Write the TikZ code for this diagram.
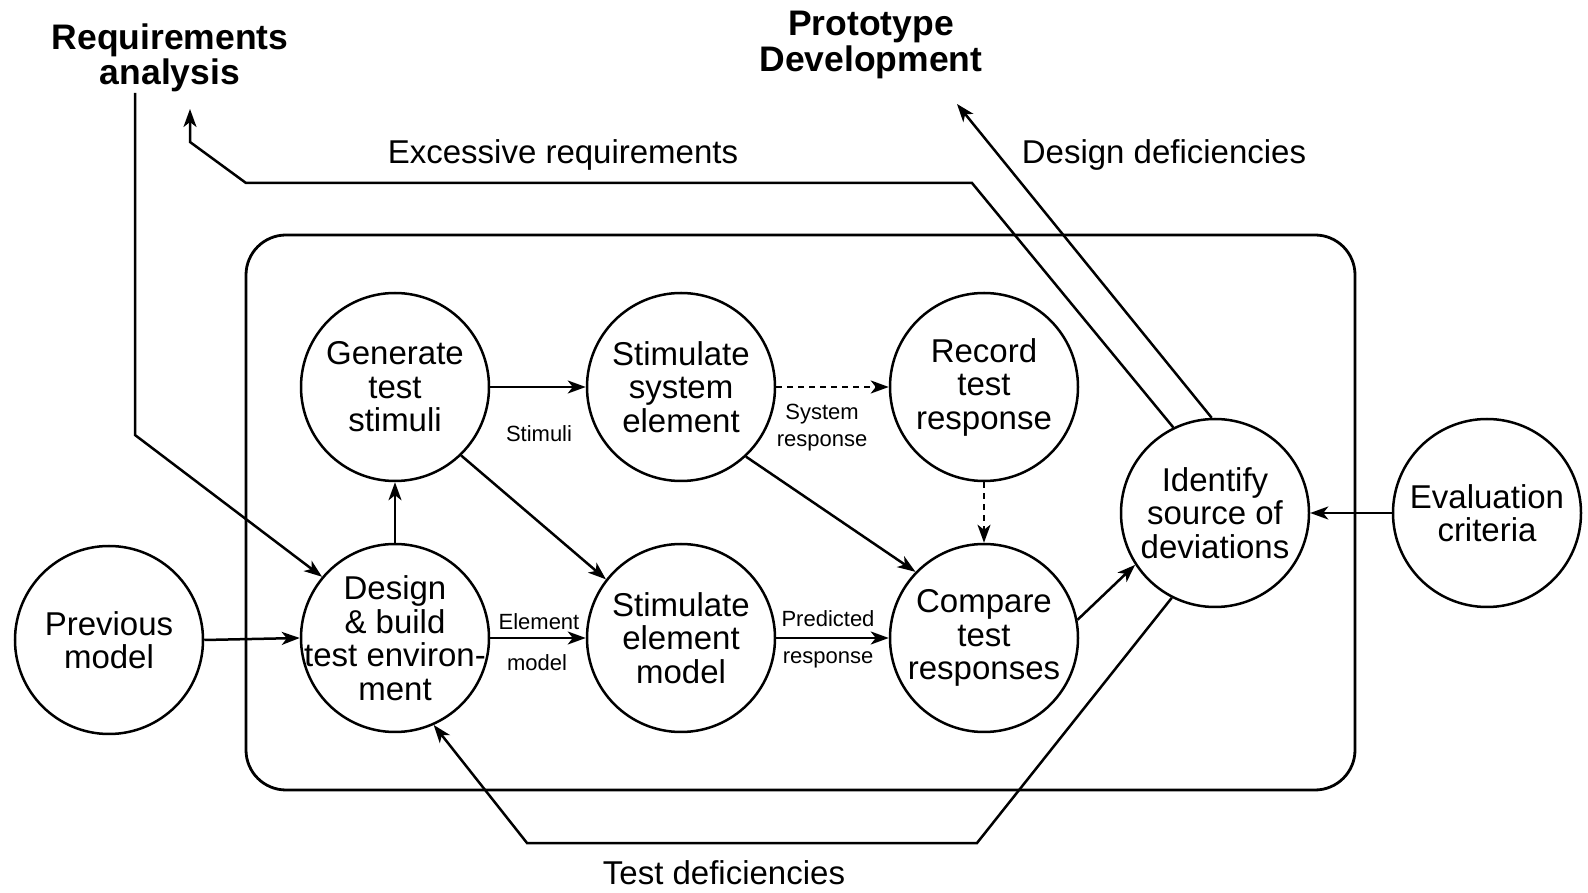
\documentclass[tikz,border=0pt]{standalone}
\usepackage{fontspec}
\setmainfont{Liberation Sans}
\usetikzlibrary{arrows.meta}
\begin{document}
\begin{tikzpicture}[x=1pt,y=1pt,
  proc/.style={draw, circle, line width=2.5pt, minimum size=188pt, inner sep=-18pt, align=center,
    font=\fontsize{33}{33.5}\selectfont},
  conn/.style={line width=2.5pt, -{Stealth[length=18pt,width=13pt,inset=5pt]}},
  dashconn/.style={conn, dash pattern=on 6pt off 5pt},
  head/.style={align=center, font=\bfseries\fontsize{35.5}{35.5}\selectfont},
  lab/.style={align=center, font=\fontsize{33}{33.5}\selectfont},
  small/.style={align=center, font=\fontsize{22}{27}\selectfont, inner sep=1pt}
]
\useasboundingbox (0,0) rectangle (1588,892);
% frame
\draw[line width=2.8pt, rounded corners=40pt] (246,102) rectangle (1355,657);
% nodes
\node[proc] (gen) at (395,505) {Generate\\test\\stimuli};
\node[proc] (sse) at (681,505) {Stimulate\\system\\element};
\node[proc] (rec) at (984,505) {Record\\test\\response};
\node[proc, inner sep=-24pt] (des) at (395,254) {Design\\\& build\\test environ-\\ment};
\node[proc] (sem) at (681,254) {Stimulate\\element\\model};
\node[proc] (cmp) at (984,254) {Compare\\test\\responses};
\node[proc] (ide) at (1215,379) {Identify\\source of\\deviations};
\node[proc] (eva) at (1487,379) {Evaluation\\criteria};
\node[proc] (prev) at (109,252) {Previous\\model};
% headings
\node[head] (req) at (170,834) {Requirements\\analysis};
\node[head] (pro) at (871,847) {Prototype\\Development};
\node[lab] (exl) at (563,737) {Excessive requirements};
\node[lab] (ddl) at (1164,737) {Design deficiencies};
\node[lab] (tdl) at (724,19) {Test deficiencies};
% small labels
\node[small] (stl) at (539,458) {Stimuli};
\node[small] (srl) at (822,464) {System\\response};
\node[small] (el1) at (539,270) {Element};
\node[small] (el2) at (537,229) {model};
\node[small] (pr1) at (828,273) {Predicted};
\node[small] (pr2) at (828,232) {response};
% coordinates
\coordinate (reqs) at (135,799);
\coordinate (reqc) at (135,457);
\coordinate (exA) at (972,709);
\coordinate (exB) at (246,709);
\coordinate (exC) at (190,750);
\coordinate (extip) at (190,783);
\coordinate (ddtip) at (957,788);
\coordinate (tdA) at (977,49);
\coordinate (tdB) at (527,49);
% connectors
\draw[conn] (reqs) -- (reqc) -- (des.140);
\draw[conn] (ide.116) -- (exA) -- (exB) -- (exC) -- (extip);
\draw[conn] (ide.92) -- (ddtip);
\draw[conn] (ide.243) -- (tdA) -- (tdB) -- (des.294);
\draw[conn] (des.north) -- (gen.south);
\draw[conn] (gen.east) -- (sse.west);
\draw[dashconn] (sse.east) -- (rec.west);
\draw[dashconn] (rec.south) -- (cmp.north);
\draw[conn] (gen.-46) -- (sem.142);
\draw[conn] (sse.-47) -- (cmp.136);
\draw[conn] (prev.east) -- (des.west);
\draw[conn] (des.east) -- (sem.west);
\draw[conn] (sem.east) -- (cmp.west);
\draw[conn] (cmp.11) -- (ide.213);
\draw[conn] (eva.west) -- (ide.east);
\end{tikzpicture}
\end{document}
